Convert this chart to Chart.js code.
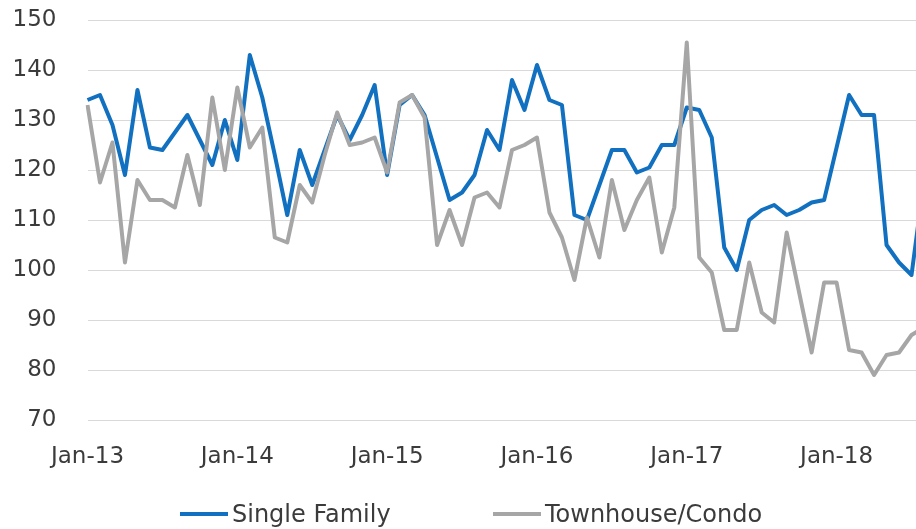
<!DOCTYPE html>
<html>
<head>
<meta charset="utf-8">
<script src="https://cdn.jsdelivr.net/npm/chart.js@4.4.1/dist/chart.umd.min.js"></script>
<style>
  html, body { margin: 0; padding: 0; background: #fff; overflow: hidden; }
  #wrap { position: absolute; left: 0; top: 0; width: 926px; height: 529px; }
  #legend { position: absolute; left: 0; top: 499px; width: 916px; height: 30px;
            font-family: 'DejaVu Sans', sans-serif; font-size: 24px; color: #3b3b3b; }
  #legend .item { position: absolute; top: 0; height: 30px; display: flex; align-items: center; white-space: nowrap; }
  #legend .swatch { display: inline-block; width: 48px; height: 4px; margin-right: 4px; }
</style>
</head>
<body>
<div id="wrap"><canvas id="chart"></canvas></div>
<div id="legend"></div>
<script>
// monthly index, Jan-13 .. Aug-18 (last month runs off the right edge)
const monthNames = ["Jan", "Feb", "Mar", "Apr", "May", "Jun", "Jul", "Aug", "Sep", "Oct", "Nov", "Dec"];
const years = ["13", "14", "15", "16", "17", "18"];
const tickLabels = ["Jan-13", "Jan-14", "Jan-15", "Jan-16", "Jan-17", "Jan-18"];

const singleFamily = [
    134, 135, 129, 119, 136, 124.5, 124, 127.5, 131, 126, 121, 130,
    122, 143, 134.5, 123, 111, 124, 117, 124, 131, 126, 131, 137,
    119, 133, 135, 131, 122.5, 114, 115.5, 119, 128, 124, 138, 132,
    141, 134, 133, 111, 110, 117, 124, 124, 119.5, 120.5, 125, 125,
    132.5, 132, 126.5, 104.5, 100, 110, 112, 113, 111, 112, 113.5, 114,
    124.5, 135, 131, 131, 105, 101.5, 99, 118
];

const townhouseCondo = [
    133, 117.5, 125.5, 101.5, 118, 114, 114, 112.5, 123, 113, 134.5, 120,
    136.5, 124.5, 128.5, 106.5, 105.5, 117, 113.5, 123, 131.5, 125, 125.5, 126.5,
    119.5, 133.5, 135, 130.5, 105, 112, 105, 114.5, 115.5, 112.5, 124, 125,
    126.5, 111.5, 106.5, 98, 110.5, 102.5, 118, 108, 114, 118.5, 103.5, 112.5,
    145.5, 102.5, 99.5, 88, 88, 101.5, 91.5, 89.5, 107.5, 95.5, 83.5, 97.5,
    97.5, 84, 83.5, 79, 83, 83.5, 87, 88.5
];

const categories = [];
years.forEach(y => monthNames.forEach(m => categories.push(m + "-" + y)));
categories.length = singleFamily.length;

const textColor = "#3b3b3b";
const fontFamily = "'DejaVu Sans', sans-serif";
const legendLeft = [180, 493];

// html legend, built from the chart's own legend items
const htmlLegend = {
    id: "htmlLegend",
    afterUpdate(chart) {
        const box = document.getElementById("legend");
        box.innerHTML = "";
        const items = chart.options.plugins.legend.labels.generateLabels(chart);
        items.sort((a, b) => a.datasetIndex - b.datasetIndex);
        items.forEach((it, i) => {
            const div = document.createElement("div");
            div.className = "item";
            div.style.left = legendLeft[i] + "px";
            const sw = document.createElement("span");
            sw.className = "swatch";
            sw.style.background = it.strokeStyle;
            div.appendChild(sw);
            div.appendChild(document.createTextNode(it.text));
            box.appendChild(div);
        });
    }
};

const ctx = document.getElementById("chart").getContext("2d");
new Chart(ctx, {
    type: "line",
    data: {
        labels: categories,
        datasets: [{
            label: "Single Family",
            data: singleFamily,
            borderColor: "#1170bf",
            backgroundColor: "#1170bf",
            borderWidth: 4,
            pointRadius: 0,
            tension: 0,
            borderJoinStyle: "round",
            order: 1
        }, {
            label: "Townhouse/Condo",
            data: townhouseCondo,
            borderColor: "#a6a6a6",
            backgroundColor: "#a6a6a6",
            borderWidth: 4,
            pointRadius: 0,
            tension: 0,
            borderJoinStyle: "round",
            order: 0
        }]
    },
    options: {
        responsive: true,
        maintainAspectRatio: false,
        animation: false,
        layout: { padding: { left: 12, right: 2, top: 20, bottom: 34 } },
        plugins: {
            tooltip: { enabled: false },
            legend: { display: false }
        },
        scales: {
            x: {
                grid: { display: false },
                border: { display: false },
                ticks: {
                    autoSkip: false,
                    maxRotation: 0,
                    padding: 15,
                    color: textColor,
                    font: { family: fontFamily, size: 23 },
                    callback: function (val) {
                        const lbl = this.getLabelForValue(val);
                        return tickLabels.includes(lbl) ? lbl : "";
                    }
                },
                afterFit(s) { s.paddingLeft = 0; s.paddingRight = 0; s.height = 75; }
            },
            y: {
                min: 70,
                max: 150,
                border: { display: false },
                grid: { color: "#d9d9d9", lineWidth: 1, drawTicks: false },
                ticks: {
                    stepSize: 10,
                    padding: 31,
                    color: textColor,
                    font: { family: fontFamily, size: 23 }
                },
                afterFit(s) { s.paddingTop = 0; s.paddingBottom = 0; s.width = 75.5; }
            }
        }
    },
    plugins: [htmlLegend]
});
</script>
</body>
</html>
